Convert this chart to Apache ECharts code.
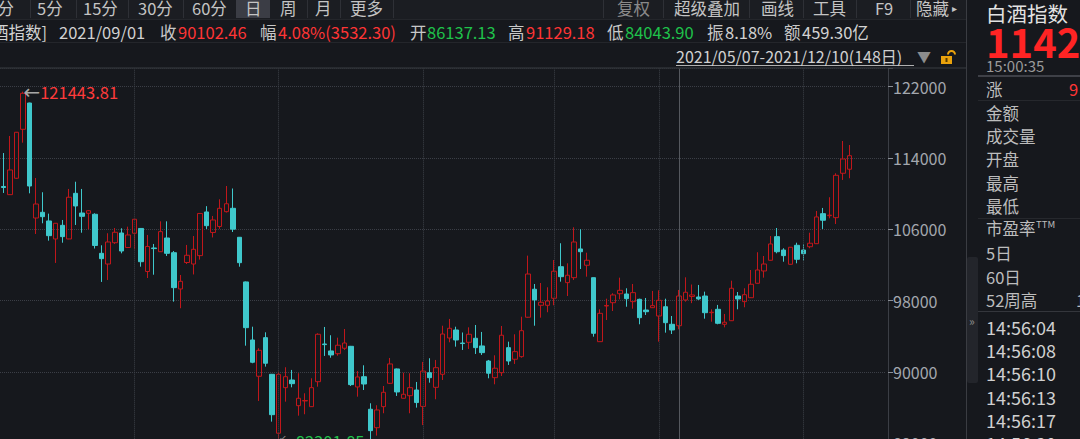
<!DOCTYPE html>
<html>
<head>
<meta charset="utf-8">
<script src="https://cdn.jsdelivr.net/npm/echarts@6/dist/echarts.min.js"></script>
<style>
html,body{margin:0;padding:0;width:1080px;height:439px;overflow:hidden;background:#16181d;}
#c{position:absolute;left:0;top:0;width:1080px;height:480px;}
</style>
</head>
<body>
<div id="c"></div>
<script>
// ---- trading days (2021) ----
const junDays = [2,3,4,7,8,9,10,11,15,16,17,18,21,22,23,24,25,28,29,30];
const julDays = [1,2,5,6,7,8,9,12,13,14,15,16,19,20,21,22,23,26,27,28,29,30];
const augDays = [2,3,4,5,6,9,10,11,12,13,16,17,18,19,20,23,24,25,26,27,30,31];
const sepDays = [1,2,3,6,7,8,9,10,13,14,15,16,17,22,23,24,27,28,29,30];
const octDays = [8,11,12,13,14,15,18,19,20,21,22,25,26,27,28,29];
const novDays = [1,2,3,4,5,8,9,10,11,12,15,16,17,18,19,22,23,24,25,26,29,30];
const decDays = [1,2,3,6,7,8,9,10];

// ---- candles: [open, close, low, high] ----
const candles = [
[110810,110690,110080,114560],[109890,112660,109850,116470],[111730,116890,111650,116920],[117220,121260,115720,121443.81],
[120170,110860,110040,120200],[107270,108840,105480,111760],[107910,107420,106680,110160],[106940,105290,104730,107760],
[104920,106680,102230,106710],[106450,105180,104500,107050],[104920,109600,104900,110530],[110040,108620,106490,111340],
[107830,107460,105620,110530],[107800,108090,106010,108170],[107690,104190,103850,107800],[103310,102710,100100,104210],
[102110,104580,100320,105560],[104500,105670,104360,106150],[105590,103570,103310,106120],[103960,105370,103910,106300],
[105560,107130,103760,107160],[106100,102370,101810,106120],[101270,104080,100540,105370],[103910,103840,100910,104360],
[103490,105740,103460,106900],[105030,103310,103010,106900],[103380,99460,97890,103570],[99310,100170,97150,100880],
[102280,103090,102110,104250],[102110,103760,100940,105250],[103050,107780,102600,107830],[107950,106410,106040,108600],
[105650,107050,105090,107500],[106320,108360,106060,109370],[107980,108870,107890,110860],[108360,106020,105700,110580],
[105110,102260,101810,105140],[100100,94970,92950,100150],[93590,91090,90980,95080],[89520,92430,86750,92660],
[93850,90980,90600,94450],[89740,85210,84430,89780],[83130,89740,82301.85,90030],[88240,89470,86670,90530],
[89100,88690,88280,90230],[86220,87050,85100,89860],[86750,86800,85260,87610],[86110,88240,86080,89290],
[88910,94230,88350,94340],[93140,93070,91800,95050],[92360,91910,91600,94120],[92050,93000,91830,93850],
[92660,93250,92470,94820],[92880,88580,88430,92920],[88320,89440,87230,90110],[89470,88650,87980,90750],
[85820,83420,82450,86490],[83750,85740,82860,86270],[86110,87720,85370,88430],[88730,90900,88650,91570],
[90340,87760,87310,90390],[87050,87500,87030,89920],[87340,88240,85370,89860],[87980,86570.16,86000,88880],
[86137.13,90102.46,84043.90,91129.18],[89920,89360,88800,91540],[88280,90480,86940,91350],[89740,94260,89100,95190],
[93810,94900,93330,95950],[94710,93590,92840,95080],[93250,93190,92470,94430],[93330,94230,92580,95010],
[93780,92730,92020,95270],[92920,92170,91910,94490],[91230,89860,89290,91350],[89360,90420,88620,91870],
[89920,94120,89550,95160],[92730,91230,90790,93400],[91430,92280,90900,94230],[91720,94630,91600,96200],
[96140,100990,96100,103050],[99280,98080,95190,99870],[97480,97820,96090,99980],[97480,97960,96700,99500],
[98270,101300,97480,102560],[101810,100690,100130,104440],[100020,100850,98520,102190],[100580,104580,100320,106230],
[103800,103490,101550,106010],[101970,102530,100690,103380],[100580,94340,93960,100600],[93400,96580,93380,97030],
[97400,97460,95830,98220],[97770,98640,96840,98830],[98780,99160,98150,100580],[98750,98220,97320,99390],
[97890,98900,97100,99870],[98150,96090,95350,98220],[96950,96760,96390,98300],[97210,97440,97180,99090],
[96280,98040,93400,99160],[97320,95530,94410,98220],[95350,94710,94260,96280],[95190,98520,94790,99200],
[98080,98940,97890,100620],[98470,98640,97720,99810],[98410,98190,98080,99760],[98520,96650,95980,99010],
[96650,96700,95640,97030],[97030,95460,95350,97520],[95350,95580,95010,96510],[95750,99390,95720,100240],
[98520,98190,97030,98970],[97890,98670,97260,99390],[98330,99840,98300,101440],[99950,101440,99920,103430],
[101330,102110,100580,103010],[102530,104360,102500,105250],[105180,103490,103310,106150],[103680,103050,102370,103880],
[102080,103990,102050,104020],[104210,102640,102190,104500],[103680,103270,102480,104360],[104050,104440,103880,105620],
[104390,107390,104360,108060],[107760,107020,106040,108400],[107530,107590,107240,109600],[107310,112060,106600,112290],
[112290,113890,111540,115910],[112740,114260,111730,115460]
];

const monthStarts = ['2021/07/01','2021/08/02','2021/09/01','2021/10/08','2021/11/01','2021/12/01'];
const cursorDate = '2021/11/04';
const yTickStart = 82000, yTickStep = 8000;

// header texts
const tabsLeft = ['5分','15分','30分','60分','日','周','月','更多'];
const tabsRight = ['复权','超级叠加','画线','工具','F9','隐藏'];
const infoRow = [
  ['2021/09/01','#d2d2d2'],['收','#c8c8c8'],['90102.46','#ff3535'],['幅','#c8c8c8'],['4.08%(3532.30)','#ff3535'],
  ['开','#c8c8c8'],['86137.13','#1fc24b'],['高','#c8c8c8'],['91129.18','#ff3535'],['低','#c8c8c8'],
  ['84043.90','#1fc24b'],['振','#c8c8c8'],['8.18%','#d2d2d2'],['额','#c8c8c8'],['459.30亿','#d2d2d2']
];
const panelLabels = ['金额','成交量','开盘','最高','最低'];
const panelLabels2 = ['5日','60日','52周高'];
const tickTimes = ['14:56:04','14:56:08','14:56:10','14:56:13','14:56:17','14:56:20'];

// ---- build categories ----
const dates = [];
[['06',junDays],['07',julDays],['08',augDays],['09',sepDays],['10',octDays],['11',novDays],['12',decDays]]
  .forEach(([m, ds]) => ds.forEach(d => dates.push('2021/' + m + '/' + (d < 10 ? '0' + d : '' + d))));

const CJK = '"Noto Sans CJK SC", "Noto Sans", sans-serif';
function T(x, y, text, fill, size, align, weight) {
  align = align || 'left';
  return {type:'text', x:x, y:y, z:100, silent:true,
    style:{text:text, fill:fill, font:(weight ? weight + ' ' : '') + size + 'px ' + CJK,
      lineHeight: Math.round(size * (weight ? 0.85 : 1.05)),
      align:align, textAlign:align, verticalAlign:'middle', textVerticalAlign:'middle'}};
}
function L(x1, y1, x2, y2, stroke, w) {
  return {type:'line', z:90, silent:true, shape:{x1:x1,y1:y1,x2:x2,y2:y2}, style:{stroke:stroke, lineWidth:w || 1}};
}
function R(x, y, w, h, fill, r) {
  return {type:'rect', z:80, silent:true, shape:{x:x,y:y,width:w,height:h,r:r||0}, style:{fill:fill}};
}

const g = [];
// top tab row
g.push(R(0,0,966,19,'#1b1d22'));
g.push(R(236,0,34,18,'#3b3d45'));
[30,76,128,183,307,340,393,603,663,749,803,856,910].forEach(x => g.push(L(x+0.5,0,x+0.5,18,'#2e3036')));
g.push(T(14,7.5,'1分','#c4c4c4',16.5,'right'));
const tabX = [37,83,138,192,245,280,315,350];
tabsLeft.forEach((t,i) => g.push(T(tabX[i],7.5,t,'#c4c4c4',16.5)));
const tabRX = [617,674,761,813,875,916];
tabsRight.forEach((t,i) => g.push(T(tabRX[i],7.5,t,i===0?'#8a8a8a':'#c4c4c4',16.5)));
g.push(T(952,7,'▸','#c4c4c4',10));
g.push(L(0,19.5,966,19.5,'#24262b'));
// info row
g.push(T(47,31.5,'[白酒指数]','#d2d2d2',16.5,'right'));
const infoX = [59,160,178,260,278,410,427,508,526,607,625,707,725,784,802];
infoRow.forEach((it,i) => g.push(T(infoX[i],31.5,it[0],it[1],16.5)));
g.push(L(0,42.5,966,42.5,'#24262b'));
// date range row
g.push(T(676,56,'2021/05/07-2021/12/10(148日)','#d0d0d0',16));
g.push(L(676,65.5,914,65.5,'#b0b0b0'));
g.push(T(917,56,'▼','#8c8c8c',14));
g.push(R(941,56,11,8,'#eaa20c'));
g.push(R(945.5,58,2,4,'#5a3c00'));
g.push({type:'arc', z:90, silent:true, shape:{cx:951.5,cy:54.5,r:3.5,startAngle:Math.PI,endAngle:2*Math.PI}, style:{stroke:'#eaa20c',lineWidth:2,fill:'none'}});
g.push(L(0,68,966,68,'#2e3036',1.5));
// right panel
g.push(L(966.5,0,966.5,439,'#3a3c42'));
g.push(R(967,257,11,126,'#23252b',2));
g.push(T(969,320,'»','#8c8c8c',12));
g.push(T(986,13,'白酒指数','#e2e2e2',20.5));
g.push(T(986,40.5,'1142','#ff2424',40,'left','bold'));
g.push(T(986,65.5,'15:00:35','#9a9a9a',15));
g.push(L(978,76,1080,76,'#3e4047',2));
g.push(T(986,89,'涨','#bdbdbd',16.5));
g.push(T(1069,89,'9','#ff3535',16.5));
g.push(L(978,100.5,1080,100.5,'#26282d'));
const plY = [113,136,159,183,206];
panelLabels.forEach((t,i) => g.push(T(986,plY[i],t,'#bdbdbd',16.5)));
g.push(L(978,218.5,1080,218.5,'#26282d'));
g.push(T(986,228,'市盈率','#bdbdbd',16.5));
g.push(T(1036,224,'TTM','#bdbdbd',9.5));
const pl2Y = [253,277,300];
panelLabels2.forEach((t,i) => g.push(T(986,pl2Y[i],t,'#bdbdbd',16.5)));
g.push(T(1076,300,'1','#bdbdbd',16.5));
g.push(L(978,311.5,1080,311.5,'#34363c'));
tickTimes.forEach((t,i) => g.push(T(986,327 + i*23.2,t,'#d0d0d0',18)));

const chart = echarts.init(document.getElementById('c'), null, {renderer:'svg'});
chart.setOption({
  backgroundColor:'#16181d',
  animation:false,
  grid:{left:-0.28, right:194.6, top:68, bottom:36.7},
  xAxis:{type:'category', data:dates, max:134, boundaryGap:true, show:false},
  yAxis:{
    type:'value', position:'right', offset:2.6,
    min:yTickStart, max:124097, interval:yTickStep,
    axisLine:{show:true, lineStyle:{color:'#3b3e45'}},
    axisTick:{show:true, length:5, lineStyle:{color:'#8a8e96'}},
    axisLabel:{color:'#a3a7ae', fontSize:16, margin:5, fontFamily:CJK,
      formatter:v => ((v - yTickStart) % yTickStep === 0 ? String(v) : '')},
    splitLine:{show:true, lineStyle:{type:'dotted', color:'#3b3e46'}}
  },
  series:[{
    type:'candlestick', data:candles, barWidth:5,
    itemStyle:{color:'transparent', color0:'#3fc8cc', borderColor:'#c0171b', borderColor0:'#3fc8cc', borderWidth:1},
    markLine:{
      silent:true, symbol:['none','none'], label:{show:false},
      lineStyle:{type:'dotted', color:'#3d4048', width:1},
      data: monthStarts.map(d => ({xAxis:d})).concat([{xAxis:cursorDate, lineStyle:{type:'solid', color:'#55585e', width:1}}])
    },
    markPoint:{
      silent:true, symbol:'circle', symbolSize:1, itemStyle:{color:'rgba(0,0,0,0)'},
      label:{show:true, position:'right', distance:0,
        rich:{
          a:{color:'#a7a7a7', fontSize:20, fontFamily:'DejaVu Sans'},
          b:{color:'#ff3b3b', fontSize:16.5, fontFamily:CJK},
          c:{color:'#9a9a9a', fontSize:9, fontFamily:'DejaVu Sans', padding:[0,9,6,0]},
          d:{color:'#22c24c', fontSize:16.5, fontFamily:CJK}
        }},
      data:[
        {type:'max', valueDim:'highest', label:{formatter:p => '{a|←}{b|' + p.value + '}'}},
        {type:'min', valueDim:'lowest', label:{formatter:p => '{c|↙}{d|' + p.value + '}'}}
      ]
    }
  }],
  graphic:g
});
</script>
</body>
</html>
